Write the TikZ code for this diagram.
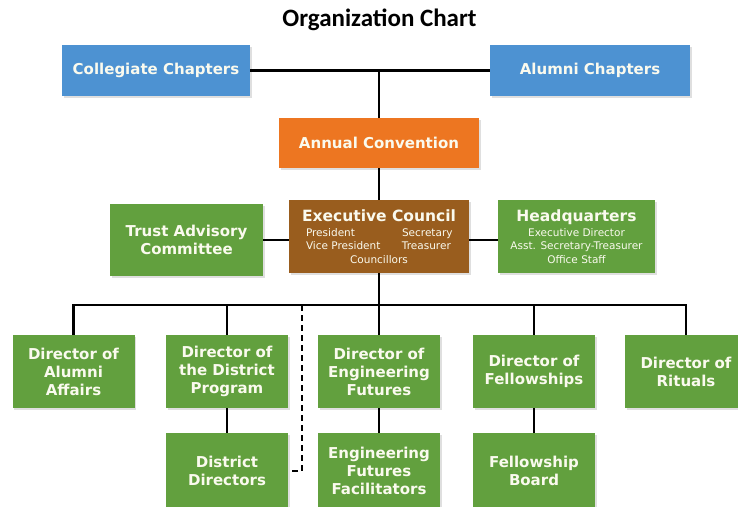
\documentclass[tikz,border=0pt]{standalone}
\usepackage{fontspec}
\setmainfont{DejaVu Sans}
\newfontfamily\titlefont{Carlito}
\usetikzlibrary{shadows}
\definecolor{chapblue}{RGB}{77,146,210}
\definecolor{convorange}{RGB}{237,118,33}
\definecolor{councilbrown}{RGB}{153,93,30}
\definecolor{boxgreen}{RGB}{98,160,62}
\definecolor{boxtext}{RGB}{250,250,238}

\begin{document}
\begin{tikzpicture}[x=1pt,y=-1pt,
    box/.style={inner sep=0pt, align=center, text=boxtext,
      font=\bfseries\fontsize{15}{18}\selectfont,
      drop shadow={opacity=0.25, shadow xshift=1.5pt, shadow yshift=-1.5pt}},
    chapter/.style={box, fill=chapblue, minimum height=51pt},
    director/.style={box, fill=boxgreen, minimum width=122pt, minimum height=73pt},
    sub/.style={box, fill=boxgreen, minimum width=122pt, minimum height=76pt},
    link/.style={line width=2.2pt},
    dashlink/.style={line width=2.2pt, dash pattern=on 6pt off 4pt}]

        % Fix the size of the page
        \useasboundingbox (0,0) rectangle (738,506);

        % Title
        \node (title) at (379.5,20) {\titlefont\bfseries\fontsize{25}{25}\selectfont Organization Chart};

        % Chapters and the convention
        \node[chapter, minimum width=188pt] (collegiate) at (156,70.5) {Collegiate Chapters};
        \node[chapter, minimum width=200pt] (alumnichap) at (590,70.5) {Alumni Chapters};
        \node[box, fill=convorange, minimum width=200pt, minimum height=50pt] (convention) at (379,143) {Annual Convention};

        % Council row
        \node[box, fill=councilbrown, minimum width=180pt, minimum height=73pt,
          font=\fontsize{10.5}{13.5}\selectfont] (council) at (379,236.5)
          {{\bfseries\fontsize{15.5}{15.5}\selectfont Executive Council}\\[1pt]
           \makebox[96pt][l]{President}\makebox[50pt][l]{Secretary}\\
           \makebox[96pt][l]{Vice President}\makebox[50pt][l]{Treasurer}\\
           Councillors};
        \node[box, fill=boxgreen, minimum width=153pt, minimum height=72pt] (trust) at (186.5,240) {Trust Advisory\\Committee};
        \node[box, fill=boxgreen, minimum width=157pt, minimum height=73pt,
          font=\fontsize{10.5}{13.5}\selectfont] (hq) at (576.5,236.5)
          {{\bfseries\fontsize{15.5}{15.5}\selectfont Headquarters}\\[1pt]
           Executive Director\\ Asst. Secretary-Treasurer\\ Office Staff};

        % Directors
        \node[director] (diralumni) at (73.5,371.5) {Director of\\Alumni\\Affairs};
        \node[director] (dirdistrict) at (227,371.5) {Director of\\the District\\Program};
        \node[director] (direng) at (379,371.5) {Director of\\Engineering\\Futures};
        \node[director] (dirfellow) at (534,371.5) {Director of\\Fellowships};
        \node[director] (dirrituals) at (686,371.5) {Director of\\Rituals};

        % Second level
        \node[sub] (distdirs) at (227,471) {District\\Directors};
        \node[sub] (engfacil) at (379,471) {Engineering\\Futures\\Facilitators};
        \node[sub] (fellowboard) at (534,471) {Fellowship\\Board};

        % Connectors
        \coordinate (bus) at (0,305);
        \coordinate (dashtop) at (302,305);
        \draw[link] (collegiate.east) -- (alumnichap.west);
        \draw[link] (convention.north) -- (convention.north |- collegiate.east);
        \draw[link] (convention.south) -- (council.north);
        \draw[link] (trust.east) -- (trust.east -| council.west);
        \draw[link] (hq.west |- trust.east) -- (trust.east -| council.east);
        \draw[link] (council.south) -- (council.south |- bus);
        \draw[link] (diralumni.north) -- (diralumni.north |- bus) -- (dirrituals.north |- bus) -- (dirrituals.north);
        \foreach \n in {dirdistrict,direng,dirfellow}
          \draw[link] (\n.north) -- (\n.north |- bus);
        \draw[link] (dirdistrict.south) -- (distdirs.north);
        \draw[link] (direng.south) -- (engfacil.north);
        \draw[link] (dirfellow.south) -- (fellowboard.north);
        \draw[dashlink] (dashtop) |- (distdirs.east);

\end{tikzpicture}
\end{document}
